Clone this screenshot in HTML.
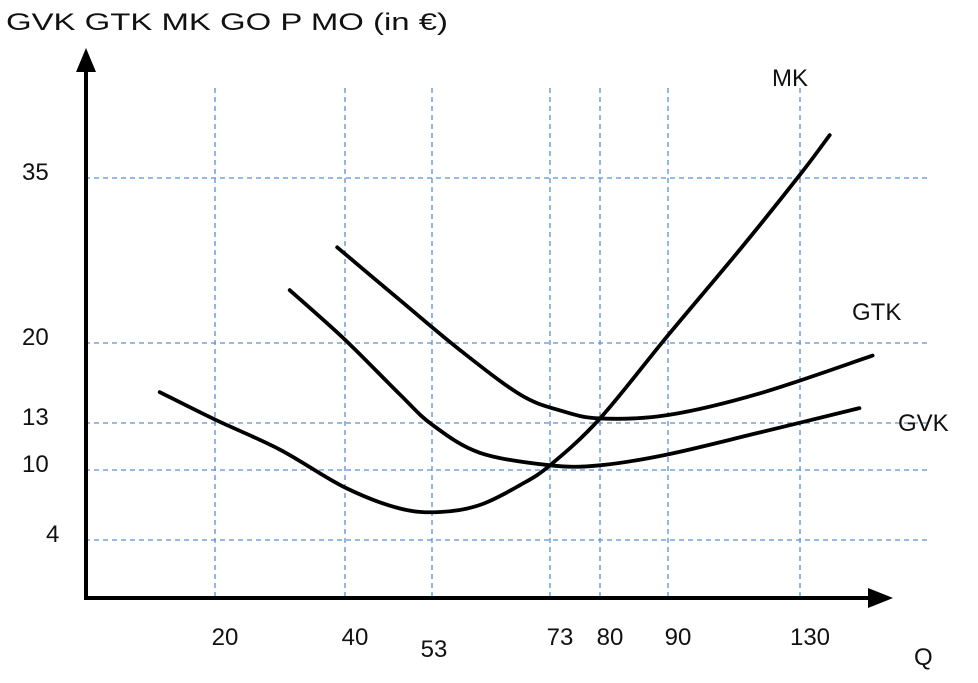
<!DOCTYPE html>
<html><head><meta charset="utf-8"><style>
body{margin:0;background:#fff;}
svg text{font-family:"Liberation Sans",Arial,sans-serif;fill:#111;font-size:24px;}
</style></head><body>
<svg id="chart" width="978" height="678" viewBox="0 0 978 678" xmlns="http://www.w3.org/2000/svg">
<text x="6" y="30" textLength="442" lengthAdjust="spacingAndGlyphs">GVK  GTK MK GO P MO (in €)</text>
<g id="grid"></g>
<g id="axes"></g>
<g id="curves"></g>
<g id="labels"></g>
<text x="772" y="86">MK</text>
<text x="852" y="320">GTK</text>
<text x="898" y="431">GVK</text>
<text x="914" y="665">Q</text>
</svg>
<script>
const xTicks=[20,40,53,73,80,90,130];
const yTicks=[4,10,13,20,35];
const mkQ=[11.5,20,30,40,48.2,54.4,61.1,67.9,73,80,90,111.8,130,134.5];
const mkV=[15.7,13.3,11.3,8.5,6.7,6.4,7.0,8.7,10.3,13.4,20.7,28.5,35.3,38.9];
const gvkQ=[31.5,40,48.2,53,61.1,73,80,90,117.9,139];
const gvkV=[24.8,20.3,15.5,12.9,11.1,10.3,10.3,11.0,12.4,14.3];
const gtkQ=[38.8,48.2,57.7,67.9,74.4,80,90,117.9,141];
const gtkV=[28.7,23.9,19.4,15.5,14.1,13.4,13.7,15.6,18.9];
const xd=[0,20,40,53,73,80,90,130,140], xr=[85,215,345,432,550,600,668,800,866];
const yd=[0,4,10,13,20,35,40], yr=[598,540,470,423,343,178,123];
function pw(d,r,v){for(let i=0;i<d.length-1;i++){if(v<=d[i+1]||i==d.length-2){return r[i]+(v-d[i])*(r[i+1]-r[i])/(d[i+1]-d[i]);}}}
const X=v=>pw(xd,xr,v), Y=v=>pw(yd,yr,v);
const NS="http://www.w3.org/2000/svg";
function mk(tag,attrs,parent){const e=document.createElementNS(NS,tag);for(const k in attrs)e.setAttribute(k,attrs[k]);parent.appendChild(e);return e;}
const grid=document.getElementById('grid'),axes=document.getElementById('axes'),curves=document.getElementById('curves'),labels=document.getElementById('labels');
xTicks.forEach(t=>{const l=mk('line',{x1:X(t),x2:X(t),y1:88,y2:598,stroke:'#5b8fd4','stroke-width':1.3,'stroke-dasharray':'5,4'},grid);


const tx=mk('text',{x:X(t)+(t==53?2:10),y:t==53?657:645,'text-anchor':'middle'},labels);tx.textContent=t;

});
yTicks.forEach(t=>{const l=mk('line',{x1:85,x2:930,y1:Y(t),y2:Y(t),stroke:'#5b8fd4','stroke-width':1.3,'stroke-dasharray':'5,4'},grid);


const tx=mk('text',{x:t<10?46:22,y:Y(t)+2},labels);tx.textContent=t;

});
const ya=mk('line',{x1:86,y1:598,x2:86,y2:70,stroke:'#000','stroke-width':4},axes);


const yh=mk('polygon',{points:'86,48 76,72 96,72',fill:'#000'},axes);


const xa=mk('line',{x1:84,y1:598,x2:870,y2:598,stroke:'#000','stroke-width':4},axes);


const xh=mk('polygon',{points:'893,598 868,588 868,608',fill:'#000'},axes);


function smooth(qs,vs){const p=qs.map((q,i)=>[X(q),Y(vs[i])]);let d='M'+p[0][0]+','+p[0][1];
for(let i=0;i<p.length-1;i++){const p0=p[Math.max(0,i-1)],p1=p[i],p2=p[i+1],p3=p[Math.min(p.length-1,i+2)];
d+=' C'+(p1[0]+(p2[0]-p0[0])/6)+','+(p1[1]+(p2[1]-p0[1])/6)+' '+(p2[0]-(p3[0]-p1[0])/6)+','+(p2[1]-(p3[1]-p1[1])/6)+' '+p2[0]+','+p2[1];}return d;}
[['mk-curve',mkQ,mkV],['gvk-curve',gvkQ,gvkV],['gtk-curve',gtkQ,gtkV]].forEach(c=>{
const p=mk('path',{d:smooth(c[1],c[2]),fill:'none',stroke:'#000','stroke-width':3.8,'stroke-linecap':'round'},curves);

});
</script>
</body></html>
